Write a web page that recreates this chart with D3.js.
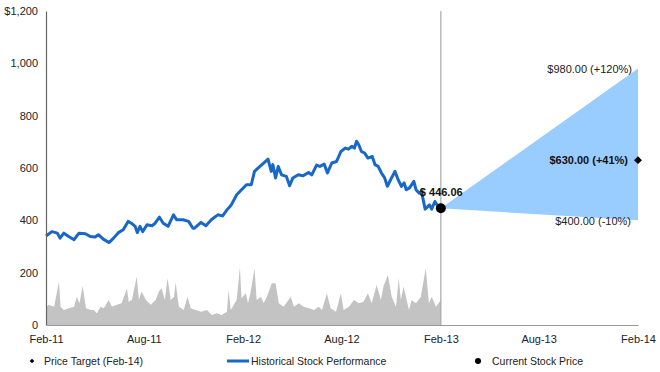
<!DOCTYPE html>
<html>
<head>
<meta charset="utf-8">
<script src="https://cdn.jsdelivr.net/npm/d3@7"></script>
<style>
  html, body { margin: 0; padding: 0; background: #fff; }
  svg { display: block; font-family: "Liberation Sans", Arial, Helvetica, sans-serif; }
</style>
</head>
<body>
<svg id="chart" width="660" height="372"></svg>
<script>
// ---- data ----
const priceDates = ["2011-02-01","2011-02-12","2011-02-22","2011-02-27","2011-03-06","2011-03-15","2011-03-25","2011-04-03","2011-04-15","2011-04-24","2011-05-03","2011-05-09","2011-05-18","2011-05-29","2011-06-06","2011-06-15","2011-06-24","2011-07-03","2011-07-09","2011-07-16","2011-07-20","2011-07-25","2011-07-30","2011-08-07","2011-08-16","2011-08-22","2011-08-30","2011-09-06","2011-09-15","2011-09-25","2011-10-01","2011-10-13","2011-10-23","2011-10-31","2011-11-03","2011-11-15","2011-11-24","2011-12-04","2011-12-16","2011-12-25","2012-01-02","2012-01-10","2012-01-20","2012-01-29","2012-02-07","2012-02-16","2012-02-22","2012-03-03","2012-03-10","2012-03-18","2012-03-24","2012-03-27","2012-04-01","2012-04-06","2012-04-12","2012-04-21","2012-04-27","2012-05-03","2012-05-13","2012-05-22","2012-06-01","2012-06-07","2012-06-16","2012-06-22","2012-06-30","2012-07-06","2012-07-14","2012-07-23","2012-07-31","2012-08-08","2012-08-14","2012-08-20","2012-08-25","2012-08-29","2012-09-02","2012-09-07","2012-09-13","2012-09-19","2012-09-27","2012-10-02","2012-10-08","2012-10-14","2012-10-20","2012-10-25","2012-10-31","2012-11-08","2012-11-14","2012-11-20","2012-11-25","2012-11-29","2012-12-05","2012-12-13","2012-12-17","2012-12-23","2012-12-27","2013-01-03","2013-01-11","2013-01-15","2013-01-21","2013-01-27","2013-01-29"];
const priceValues = [340,357,351,332,351,338,326,351,349,338,336,345,328,315,332,353,364,396,389,377,353,377,357,383,379,389,412,389,377,421,402,402,396,370,370,392,379,402,421,417,440,459,498,517,536,536,587,606,619,634,587,613,562,606,574,568,532,562,574,570,583,574,611,606,615,581,619,625,663,676,672,683,676,702,689,663,657,638,644,613,606,581,562,530,555,587,555,530,543,517,524,549,517,504,511,443,459,443,472,453,446];

const volumeDates = ["2011-02-01","2011-02-06","2011-02-16","2011-02-25","2011-02-28","2011-03-06","2011-03-15","2011-03-25","2011-03-30","2011-04-04","2011-04-10","2011-04-16","2011-04-25","2011-04-30","2011-05-06","2011-05-13","2011-05-19","2011-05-28","2011-06-03","2011-06-12","2011-06-21","2011-07-01","2011-07-04","2011-07-10","2011-07-19","2011-07-23","2011-07-28","2011-08-05","2011-08-14","2011-08-23","2011-08-29","2011-09-03","2011-09-09","2011-09-14","2011-09-20","2011-09-26","2011-09-29","2011-10-05","2011-10-14","2011-10-21","2011-10-27","2011-11-05","2011-11-15","2011-11-26","2011-12-05","2011-12-14","2011-12-23","2012-01-02","2012-01-05","2012-01-09","2012-01-20","2012-01-26","2012-01-29","2012-02-06","2012-02-10","2012-02-15","2012-02-22","2012-02-26","2012-03-05","2012-03-10","2012-03-16","2012-03-25","2012-04-01","2012-04-07","2012-04-16","2012-04-29","2012-05-05","2012-05-14","2012-05-23","2012-06-02","2012-06-11","2012-06-20","2012-06-26","2012-07-05","2012-07-12","2012-07-22","2012-07-31","2012-08-05","2012-08-15","2012-08-24","2012-09-02","2012-09-11","2012-09-19","2012-09-26","2012-10-05","2012-10-13","2012-10-18","2012-10-26","2012-11-02","2012-11-10","2012-11-15","2012-11-19","2012-11-24","2012-12-04","2012-12-09","2012-12-17","2012-12-26","2013-01-04","2013-01-10","2013-01-15","2013-01-23","2013-02-01"];
const volumeValues = [70,77,70,166,70,57,64,70,108,83,149,64,57,57,45,70,64,96,70,77,83,140,89,96,185,96,128,96,77,96,128,140,96,179,96,108,162,70,57,108,64,57,51,57,38,45,38,51,134,57,96,221,102,121,83,128,217,96,108,83,108,160,160,83,70,108,70,83,70,64,57,70,57,121,64,51,121,57,70,96,83,89,121,83,153,96,149,191,108,70,179,96,147,57,96,83,108,217,83,108,70,96];

const currentDate = "2013-02-01";
const currentPrice = 446.06;
const targetDate = "2014-02-01";
const targetHigh = 980, targetMid = 630, targetLow = 400;
const targetLabels = ["$980.00 (+120%)", "$630.00 (+41%)", "$400.00 (-10%)"];
const currentLabel = "$ 446.06";

const xTickDates = ["2011-02-01","2011-08-01","2012-02-01","2012-08-01","2013-02-01","2013-08-01","2014-02-01"];
const xTickLabels = ["Feb-11","Aug-11","Feb-12","Aug-12","Feb-13","Aug-13","Feb-14"];
const yTicks = [0,200,400,600,800,1000,1200];
const yTickLabels = ["0","200","400","600","800","1,000","$1,200"];

const legendLabels = ["Price Target (Feb-14)", "Historical Stock Performance", "Current Stock Price"];

// ---- chart ----
const parse = d3.utcParse("%Y-%m-%d");
const svg = d3.select("#chart");
const margin = {left: 46, right: 22, top: 11, bottom: 47};
const W = 660, H = 372;

const x = d3.scaleUtc()
  .domain([parse(xTickDates[0]), parse(xTickDates[xTickDates.length - 1])])
  .range([margin.left, W - margin.right]);
const y = d3.scaleLinear().domain([0, 1200]).range([H - margin.bottom, margin.top]);

const price = priceDates.map((d, i) => ({date: parse(d), v: priceValues[i]}));
const volume = volumeDates.map((d, i) => ({date: parse(d), v: volumeValues[i]}));

// volume area
svg.append("path")
  .datum(volume)
  .attr("fill", "#c3c3c3")
  .attr("d", d3.area().x(d => x(d.date)).y0(y(0)).y1(d => y(d.v)));

// vertical divider at Feb-13
svg.append("line")
  .attr("x1", x(parse(currentDate))).attr("x2", x(parse(currentDate)))
  .attr("y1", y(1200)).attr("y2", y(0))
  .attr("stroke", "#a8a8a8").attr("stroke-width", 1.2);

// cone
const cone = [
  [parse(currentDate), currentPrice],
  [parse(targetDate), targetHigh],
  [parse(targetDate), targetLow]
];
svg.append("path")
  .attr("fill", "#99ccff")
  .attr("d", d3.line().x(d => x(d[0])).y(d => y(d[1]))(cone) + "Z");

// price line
svg.append("path")
  .datum(price)
  .attr("fill", "none")
  .attr("stroke", "#1867c9")
  .attr("stroke-width", 3)
  .attr("stroke-linejoin", "round")
  .attr("d", d3.line().x(d => x(d.date)).y(d => y(d.v)));

// axes
const yAxis = d3.axisLeft(y).tickValues(yTicks).tickSize(0).tickPadding(8)
  .tickFormat((d, i) => yTickLabels[i]);
const gy = svg.append("g").attr("transform", `translate(${margin.left},0)`).call(yAxis);
gy.select(".domain").attr("stroke", "#666").attr("stroke-width", 1.2);
gy.selectAll("text").attr("font-size", 11).attr("fill", "#222")
  .attr("font-family", "'Liberation Sans', Arial, sans-serif");

const xAxis = d3.axisBottom(x).tickValues(xTickDates.map(parse)).tickSize(0).tickPadding(10)
  .tickFormat((d, i) => xTickLabels[i]);
const gx = svg.append("g").attr("transform", `translate(0,${y(0)})`).call(xAxis);
gx.select(".domain").attr("stroke", "#999").attr("stroke-width", 1.2);
gx.selectAll("text").attr("font-size", 11).attr("fill", "#222")
  .attr("font-family", "'Liberation Sans', Arial, sans-serif");

// current point
svg.append("circle")
  .attr("cx", x(parse(currentDate))).attr("cy", y(currentPrice))
  .attr("r", 5).attr("fill", "#000");
svg.append("text")
  .attr("x", x(parse(currentDate)) - 21).attr("y", y(currentPrice) - 12)
  .attr("font-size", 11).attr("font-weight", "bold").attr("fill", "#111")
  .text(currentLabel);

// target diamond
svg.append("path")
  .attr("transform", `translate(${x(parse(targetDate))},${y(targetMid)})`)
  .attr("d", d3.symbol(d3.symbolDiamond2, 40)())
  .attr("fill", "#000");

// target labels
const tx = x(parse(targetDate));
svg.append("text").attr("x", tx - 6).attr("y", y(targetHigh) + 4)
  .attr("text-anchor", "end").attr("font-size", 11).attr("fill", "#222").text(targetLabels[0]);
svg.append("text").attr("x", tx - 10).attr("y", y(targetMid) + 4)
  .attr("text-anchor", "end").attr("font-size", 11).attr("font-weight", "bold").attr("fill", "#111").text(targetLabels[1]);
svg.append("text").attr("x", tx - 7).attr("y", y(targetLow) + 5)
  .attr("text-anchor", "end").attr("font-size", 11).attr("fill", "#222").text(targetLabels[2]);

// legend
const ly = 361;
const lg = svg.append("g").attr("font-size", 10.5).attr("fill", "#222");
lg.append("path").attr("transform", `translate(32,${ly})`)
  .attr("d", d3.symbol(d3.symbolDiamond2, 14)()).attr("fill", "#000");
lg.append("text").attr("x", 44).attr("y", ly + 4).text(legendLabels[0]);
lg.append("line").attr("x1", 227).attr("x2", 249).attr("y1", ly).attr("y2", ly)
  .attr("stroke", "#1867c9").attr("stroke-width", 3);
lg.append("text").attr("x", 251).attr("y", ly + 4).text(legendLabels[1]);
lg.append("circle").attr("cx", 478).attr("cy", ly).attr("r", 3).attr("fill", "#000");
lg.append("text").attr("x", 492).attr("y", ly + 4).text(legendLabels[2]);
</script>
</body>
</html>
